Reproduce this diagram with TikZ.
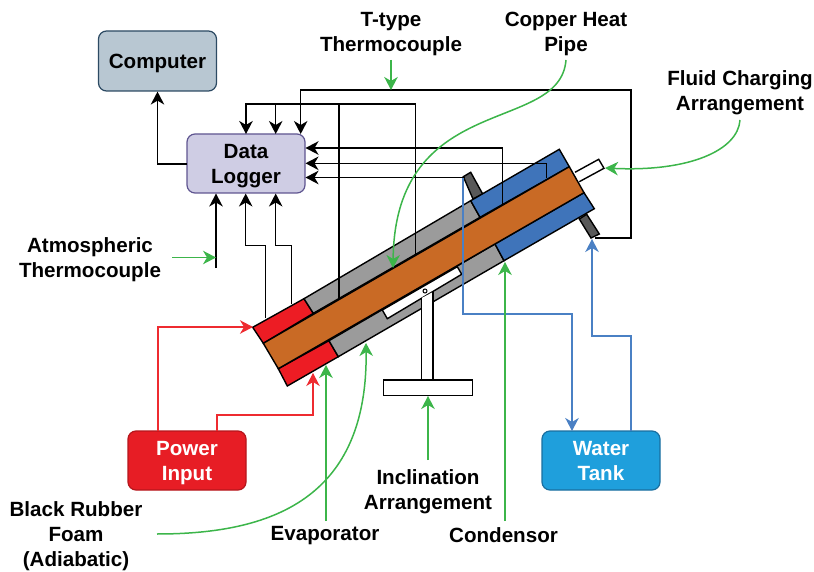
\documentclass[tikz,border=0pt]{standalone}
\usepackage{fontspec}
\setmainfont{Liberation Sans}
\usetikzlibrary{arrows.meta}
\definecolor{cgreen}{HTML}{3CB54A}
\definecolor{cblue}{HTML}{4A80C4}
\definecolor{cred}{HTML}{EE2B30}
\definecolor{cblock}{HTML}{3F74BA}
\definecolor{cgray}{HTML}{9B9B9B}
\definecolor{ccopper}{HTML}{C96A25}
\definecolor{cdark}{HTML}{595959}
\definecolor{cfoam}{HTML}{ED1C24}
\definecolor{cbcomp}{HTML}{2C4A63}\definecolor{cfcomp}{HTML}{B8C7D2}
\definecolor{cblog}{HTML}{5F5590}\definecolor{cflog}{HTML}{CFCDE4}
\definecolor{cbpow}{HTML}{B5161C}\definecolor{cfpow}{HTML}{E71D25}
\definecolor{cbwat}{HTML}{1A6FA0}\definecolor{cfwat}{HTML}{1F9FDC}
\newcommand\lowered[1]{\raisebox{-2.5pt}[0.7em][0.2em]{#1}}
\tikzset{
  tip/.style={-{Stealth[length=13pt,width=13.5pt,inset=4pt]}},
  blk/.style={draw=black,line width=1.5pt,line join=miter},
  blkarrow/.style={blk,tip},
  grn/.style={draw=cgreen,line width=1.5pt,tip},
  redarrow/.style={draw=cred,line width=1.3pt,tip},
  bluarrow/.style={draw=cblue,line width=1.5pt,tip},
  part/.style={draw=black,line width=1.4pt,line join=miter},
  box/.style={rounded corners=8pt,minimum width=118pt,minimum height=59pt,inner sep=0pt,
    line width=1.2pt,align=center,font=\fontsize{20.6}{25}\selectfont\bfseries},
  lab/.style={inner sep=0pt,align=center,font=\fontsize{20.6}{25}\selectfont\bfseries},
}
\begin{document}
\begin{tikzpicture}[x=1pt,y=-1pt]
\useasboundingbox (0,0) rectangle (814,572);
% boxes
\node[box,draw=cbcomp,fill=cfcomp,minimum height=60pt] (computer) at (157.5,61) {\lowered{Computer}};
\node[box,draw=cblog,fill=cflog] (logger) at (246,163.5) {\lowered{Data}\\\lowered{Logger}};
\node[box,draw=cbpow,fill=cfpow,text=white] (power) at (187,460.5) {\lowered{Power}\\\lowered{Input}};
\node[box,draw=cbwat,fill=cfwat,text=white] (tank) at (601,460.5) {\lowered{Water}\\\lowered{Tank}};
% tabs and tube behind the pipe
\fill[white] (575,172.3) -- (598.7,159.3) -- (604,168.3) -- (579.3,181.7) -- cycle;
\draw[part] (575,172.3) -- (598.7,159.3) -- (604,168.3) -- (579.3,181.7);
\draw[part,fill=cdark] (463.3,176.7) -- (470.7,172.3) -- (482.7,194) -- (473,199) -- cycle;
\draw[part,fill=cdark] (579.3,219) -- (586.7,214.3) -- (599.3,234) -- (591,238) -- cycle;
% pipe
\draw[part,fill=cfoam] (252.7,327.3) -- (304,298.7) -- (313.3,313.3) -- (263.3,343.3) -- cycle;
\draw[part,fill=cgray] (304,298.7) -- (470.7,200.7) -- (480,217.3) -- (313.3,313.3) -- cycle;
\draw[part,fill=cblock] (470.7,200.7) -- (559.3,149.3) -- (569.3,166.7) -- (480,217.3) -- cycle;
\draw[part,fill=cfoam] (278.3,368.7) -- (329,340.7) -- (338.3,356.7) -- (287.3,386) -- cycle;
\draw[part,fill=cgray] (329,340.7) -- (495,244) -- (504,260.7) -- (338.3,356.7) -- cycle;
\draw[part,fill=cblock] (495,244) -- (584,192.7) -- (594.3,208.7) -- (504,260.7) -- cycle;
\draw[part,fill=ccopper] (263.3,343.3) -- (569.3,166.7) -- (584,192.7) -- (278.3,368.7) -- cycle;
\draw[part,fill=white] (382.3,310) -- (457.3,266.7) -- (461.7,274.3) -- (387.3,318.7) -- cycle;
% stand
\fill[white] (421.7,298) -- (433,292) -- (433,380) -- (421.7,380) -- cycle;
\draw[part] (421.7,298) -- (421.7,380) (433,292) -- (433,380);
\draw[part,fill=white] (383.3,380) rectangle (472.3,395.3);
\draw[black,line width=1pt,fill=white] (425,291) circle (2pt);
% anchors
\coordinate (lt1) at (246,134); \coordinate (lt2) at (275.7,134); \coordinate (lt3) at (300.7,134);
\coordinate (lr1) at (305.5,148); \coordinate (lr2) at (305.5,163.3); \coordinate (lr3) at (305.5,177.5);
\coordinate (lb1) at (216,193.5); \coordinate (lb2) at (245.7,193.5); \coordinate (lb3) at (275.7,193.5);
\coordinate (ll) at (187,164);
\coordinate (c1) at (265.7,318); \coordinate (c2) at (291.7,304);
\coordinate (c3) at (339,298); \coordinate (c4) at (415.7,255);
\coordinate (c5) at (502.3,204); \coordinate (c6) at (546.7,178);
\coordinate (tab1) at (464.5,177.5); \coordinate (tab2) at (595,238);
\coordinate (atm) at (216,268);
\coordinate (j1) at (275.7,104); \coordinate (j2) at (339,104);
\coordinate (j3) at (245.7,245.7); \coordinate (j4) at (275.7,245.7);
% black connectors
\draw[blkarrow] (ll) -| (computer.south);
\draw[blkarrow] (c3) |- (246,104) -- (lt1);
\draw[blkarrow] (j1) -- (lt2);
\draw[blk] (c4) |- (j2);
\draw[blkarrow] (tab2) -| (631,90) -| (lt3);
\draw[blkarrow] (c5) |- (lr1);
\draw[blkarrow] (c6) |- (lr2);
\draw[blkarrow] (tab1) -- (lr3);
\draw[blkarrow] (atm) -- (lb1);
\draw[blkarrow] (c1) |- (j3) -- (lb2);
\draw[blkarrow] (c2) |- (j4) -- (lb3);
% red connectors
\coordinate (rt1) at (253,327); \coordinate (rt2) at (313,373);
\draw[redarrow] (158,431) |- (rt1);
\draw[redarrow] (217,431) |- (313,415) -- (rt2);
% blue connectors
\coordinate (bt1) at (463,178); \coordinate (bt2) at (592,239);
\draw[bluarrow] (bt1) |- (572,314) -- (572,431);
\draw[bluarrow] (631,431) |- (592,336) -- (bt2);
% labels
\node[lab] (ttype) at (391,34) {T-type\\Thermocouple};
\node[lab] (cheat) at (566,34) {Copper Heat\\Pipe};
\node[lab] (fluid) at (740,93) {Fluid Charging\\Arrangement};
\node[lab] (atmos) at (90,260) {Atmospheric\\Thermocouple};
\node[lab] (rubber) at (76,536) {Black Rubber\\Foam\\(Adiabatic)};
\node[lab] (evap) at (325,536) {Evaporator};
\node[lab] (cond) at (503.5,535) {Condensor};
\node[lab] (incl) at (428,492) {Inclination\\Arrangement};
% green connectors
\draw[grn] (391,60) -- (391,90);
\draw[grn] (566,60) .. controls (560,135) and (395,90) .. (393,268);
\draw[grn] (740,120) .. controls (738,150) and (690,172) .. (605,168);
\draw[grn] (172,257.5) -- (216,257.5);
\draw[grn] (157,534) .. controls (270,534) and (368,500) .. (366,343);
\draw[grn] (326,521) -- (326,365);
\draw[grn] (505,521) -- (505,262);
\draw[grn] (428,460) -- (428,396);
\end{tikzpicture}
\end{document}
